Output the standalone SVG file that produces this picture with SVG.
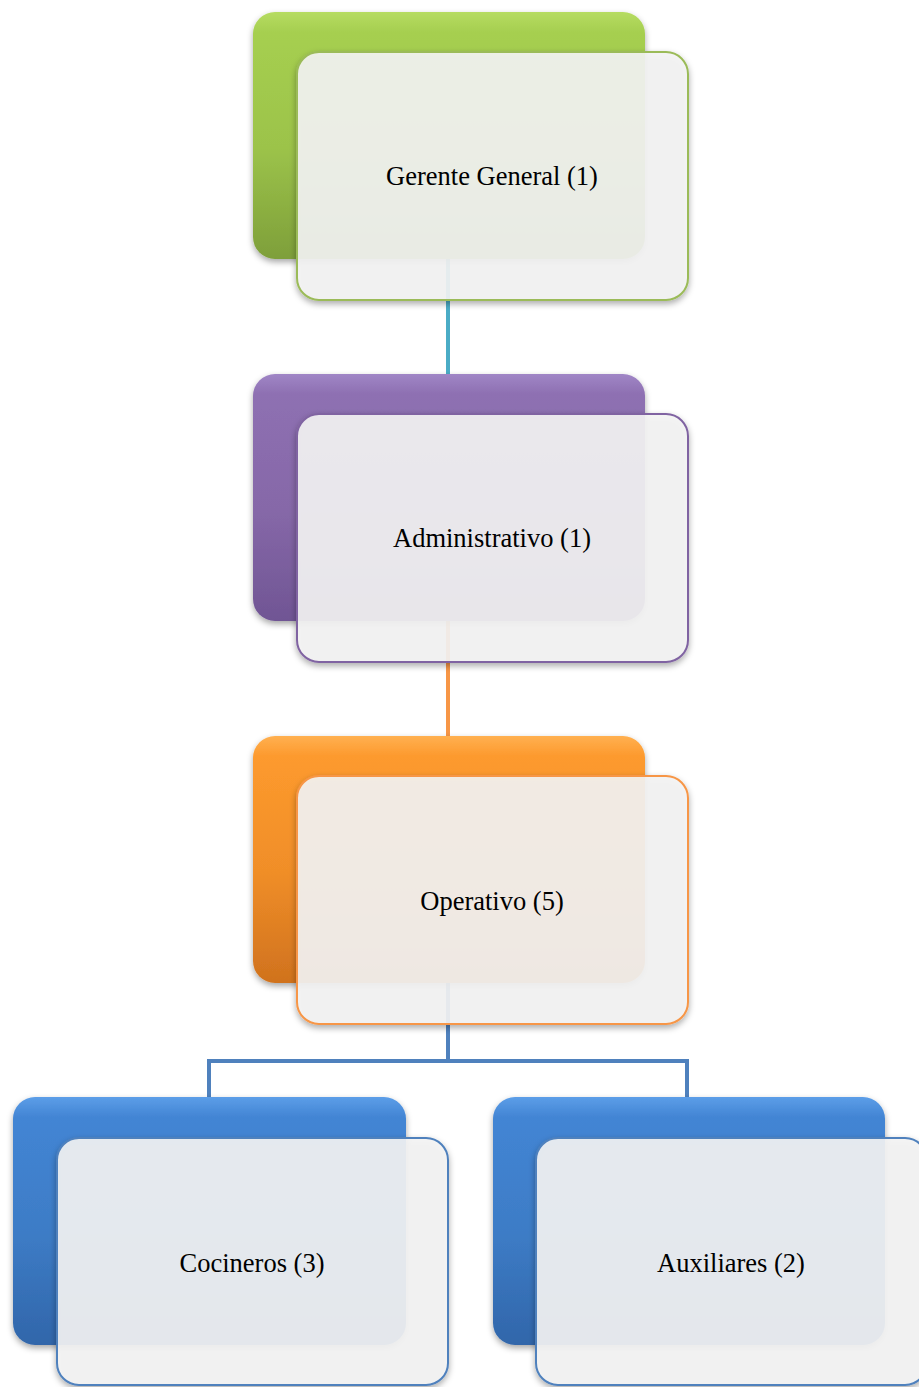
<svg xmlns="http://www.w3.org/2000/svg" width="919" height="1387" viewBox="0 0 919 1387">
<defs>
<linearGradient id="gGreen" x1="0" y1="0" x2="0" y2="1"><stop offset="0" stop-color="#B6DC62"/><stop offset="0.08" stop-color="#A6CF50"/><stop offset="0.55" stop-color="#9CC34A"/><stop offset="1" stop-color="#7E9F3A"/></linearGradient>
<linearGradient id="gPurple" x1="0" y1="0" x2="0" y2="1"><stop offset="0" stop-color="#A086C6"/><stop offset="0.08" stop-color="#8E70B2"/><stop offset="0.55" stop-color="#8668A8"/><stop offset="1" stop-color="#705594"/></linearGradient>
<linearGradient id="gOrange" x1="0" y1="0" x2="0" y2="1"><stop offset="0" stop-color="#FFB050"/><stop offset="0.08" stop-color="#FD9A2E"/><stop offset="0.55" stop-color="#F08E28"/><stop offset="1" stop-color="#D0721E"/></linearGradient>
<linearGradient id="gBlue" x1="0" y1="0" x2="0" y2="1"><stop offset="0" stop-color="#5C9EE8"/><stop offset="0.08" stop-color="#4385D4"/><stop offset="0.55" stop-color="#3D7CC6"/><stop offset="1" stop-color="#3166AA"/></linearGradient>
<filter id="sh" x="-10%" y="-10%" width="120%" height="125%"><feDropShadow dx="0" dy="3" stdDeviation="3" flood-color="#000" flood-opacity="0.35"/></filter>
</defs>
<style>
.back{filter:url(#sh);}
.front{fill:#F4F4F4;fill-opacity:0.9;stroke-width:2;filter:url(#sh);}
.lbl{font-family:"Liberation Serif","Times New Roman",serif;font-size:26.5px;fill:#000;text-anchor:middle;}
.conn{fill:none;stroke-width:4;}
</style>
<g id="connectors">
<line class="conn" x1="448" y1="259" x2="448" y2="376" stroke="#4BACC6"/>
<line class="conn" x1="448" y1="621" x2="448" y2="738" stroke="#F79646"/>
<path class="conn" d="M448 983 V1061 M209 1099 V1061 H687 V1099" stroke="#4F81BD"/>
</g>
<g id="node-gerente">
<rect class="back" x="253" y="12" width="392" height="247" rx="22" fill="url(#gGreen)"/>
<rect class="front" x="297" y="52" width="391" height="248" rx="22" stroke="#9BBB59"/>
<text class="lbl" x="492" y="185">Gerente General (1)</text>
</g>
<g id="node-administrativo">
<rect class="back" x="253" y="374" width="392" height="247" rx="22" fill="url(#gPurple)"/>
<rect class="front" x="297" y="414" width="391" height="248" rx="22" stroke="#8064A2"/>
<text class="lbl" x="492" y="547">Administrativo (1)</text>
</g>
<g id="node-operativo">
<rect class="back" x="253" y="736" width="392" height="247" rx="22" fill="url(#gOrange)"/>
<rect class="front" x="297" y="776" width="391" height="248" rx="22" stroke="#F79646"/>
<text class="lbl" x="492" y="910">Operativo (5)</text>
</g>
<g id="node-cocineros">
<rect class="back" x="13" y="1097" width="393" height="248" rx="22" fill="url(#gBlue)"/>
<rect class="front" x="57" y="1138" width="391" height="247" rx="22" stroke="#4F81BD"/>
<text class="lbl" x="252" y="1272">Cocineros (3)</text>
</g>
<g id="node-auxiliares">
<rect class="back" x="493" y="1097" width="392" height="248" rx="22" fill="url(#gBlue)"/>
<rect class="front" x="536" y="1138" width="391" height="247" rx="22" stroke="#4F81BD"/>
<text class="lbl" x="731" y="1272">Auxiliares (2)</text>
</g>
</svg>
